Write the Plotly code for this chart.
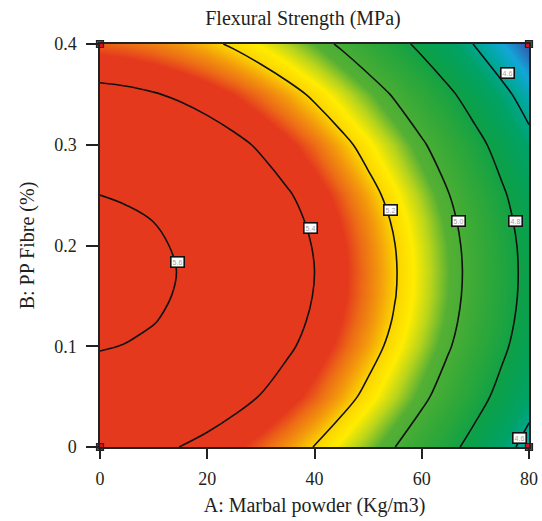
import plotly.graph_objects as go

# Factor levels
marble_powder = [0, 5, 10, 15, 20, 25, 30, 35, 40, 45, 50, 55, 60, 65, 70, 75, 80]   # A: Kg/m3
pp_fibre = [0, 0.05, 0.10, 0.125, 0.15, 0.175, 0.20, 0.225, 0.25, 0.30, 0.35, 0.40]  # B: %

# Flexural strength (MPa); rows follow pp_fibre
strength = [
    [5.445, 5.436, 5.420, 5.399, 5.371, 5.337, 5.297, 5.250, 5.197, 5.138, 5.073, 5.001, 4.924, 4.839, 4.749, 4.653, 4.550],
    [5.542, 5.533, 5.518, 5.497, 5.470, 5.436, 5.396, 5.350, 5.298, 5.239, 5.174, 5.103, 5.026, 4.942, 4.852, 4.756, 4.654],
    [5.606, 5.597, 5.583, 5.562, 5.535, 5.502, 5.462, 5.416, 5.364, 5.306, 5.241, 5.170, 5.093, 5.010, 4.920, 4.825, 4.723],
    [5.625, 5.617, 5.603, 5.582, 5.555, 5.522, 5.482, 5.436, 5.384, 5.326, 5.262, 5.191, 5.114, 5.031, 4.941, 4.846, 4.744],
    [5.637, 5.629, 5.614, 5.593, 5.567, 5.533, 5.494, 5.448, 5.396, 5.338, 5.274, 5.203, 5.126, 5.043, 4.953, 4.858, 4.756],
    [5.640, 5.632, 5.617, 5.597, 5.570, 5.537, 5.497, 5.452, 5.400, 5.341, 5.277, 5.206, 5.129, 5.046, 4.957, 4.861, 4.759],
    [5.635, 5.627, 5.612, 5.591, 5.565, 5.531, 5.492, 5.446, 5.394, 5.336, 5.272, 5.201, 5.124, 5.041, 4.951, 4.856, 4.754],
    [5.621, 5.613, 5.599, 5.578, 5.551, 5.518, 5.478, 5.432, 5.380, 5.322, 5.258, 5.187, 5.110, 5.027, 4.937, 4.841, 4.739],
    [5.600, 5.591, 5.577, 5.556, 5.529, 5.496, 5.456, 5.410, 5.358, 5.300, 5.235, 5.164, 5.087, 5.004, 4.914, 4.818, 4.716],
    [5.532, 5.523, 5.508, 5.487, 5.460, 5.426, 5.386, 5.340, 5.288, 5.229, 5.164, 5.093, 5.015, 4.932, 4.842, 4.746, 4.643],
    [5.431, 5.422, 5.406, 5.385, 5.357, 5.323, 5.282, 5.236, 5.183, 5.124, 5.058, 4.987, 4.909, 4.825, 4.734, 4.638, 4.535],
    [5.297, 5.287, 5.271, 5.249, 5.221, 5.186, 5.145, 5.098, 5.044, 4.984, 4.918, 4.846, 4.768, 4.683, 4.592, 4.495, 4.391],
]

# Design points (corners)
design_A = [0, 0, 80, 80]
design_B = [0, 0.4, 0, 0.4]

# Contour label boxes
label_A = [14.4, 39.2, 54.1, 66.9, 77.4, 75.9, 78.2]
label_B = [0.184, 0.217, 0.235, 0.224, 0.224, 0.371, 0.009]
label_txt = ["5.6", "5.4", "5.2", "5.0", "4.8", "4.6", "4.6"]

colorscale = [
    [0.000, "#3550A8"],
    [0.080, "#12A6D8"],
    [0.144, "#00A89E"],
    [0.216, "#00A266"],
    [0.312, "#0CA048"],
    [0.424, "#32A838"],
    [0.525, "#55B034"],
    [0.570, "#B8D41C"],
    [0.610, "#FFEC00"],
    [0.650, "#FBD200"],
    [0.685, "#F39A0C"],
    [0.720, "#EC6A16"],
    [0.748, "#E5391E"],
    [1.000, "#E5391E"],
]

font_family = "Liberation Serif"
txt_color = "#231F20"

fig = go.Figure()
fig.add_trace(go.Contour(
    x=marble_powder, y=pp_fibre, z=strength,
    zmin=4.39, zmax=5.64,
    colorscale=colorscale, showscale=False,
    contours=dict(coloring="heatmap", start=4.6, end=5.6, size=0.2, showlines=True),
    line=dict(color="#111111", width=1.6, smoothing=1),
    hoverinfo="skip",
))
fig.add_trace(go.Scatter(
    x=design_A, y=design_B, mode="markers",
    marker=dict(symbol="square", size=7, color="#D7141E", line=dict(color="#222222", width=1.2)),
    cliponaxis=False, hoverinfo="skip", showlegend=False,
))

for a, b, t in zip(label_A, label_B, label_txt):
    fig.add_annotation(x=a, y=b, text=t, showarrow=False,
                       font=dict(size=7, color="#a0a0a0", family="Arial"),
                       bgcolor="white", bordercolor="#111111", borderwidth=1.6, borderpad=1)

fig.update_layout(
    width=542, height=521,
    margin=dict(l=100, r=13, t=44, b=74),
    paper_bgcolor="white", plot_bgcolor="white",
    font=dict(family=font_family, size=18, color=txt_color),
    showlegend=False,
    title=dict(text="Flexural Strength (MPa)", x=303/542, xref="container", xanchor="center",
               y=1 - 18/521, yref="container", yanchor="middle",
               font=dict(family=font_family, size=20, color=txt_color)),
)
fig.update_xaxes(
    range=[0, 80], tickvals=[0, 20, 40, 60, 80], ticks="outside", ticklen=10, tickwidth=1.5,
    tickcolor="#222222", showline=True, linecolor="#222222", linewidth=1.5, mirror=True,
    showgrid=False, zeroline=False, ticklabelstandoff=5, automargin=False,
    title=dict(text="A: Marbal powder (Kg/m3)", standoff=10, font=dict(size=20)),
)
fig.update_yaxes(
    range=[0, 0.4], tickvals=[0, 0.1, 0.2, 0.3, 0.4], ticktext=["0", "0.1", "0.2", "0.3", "0.4"],
    ticks="outside", ticklen=12, tickwidth=1.5,
    tickcolor="#222222", showline=True, linecolor="#222222", linewidth=1.5, mirror=True,
    showgrid=False, zeroline=False, ticklabelstandoff=6, automargin=False,
    title=dict(text="B: PP Fibre (%)", standoff=14, font=dict(size=20)),
)

fig.write_html("out.html")
